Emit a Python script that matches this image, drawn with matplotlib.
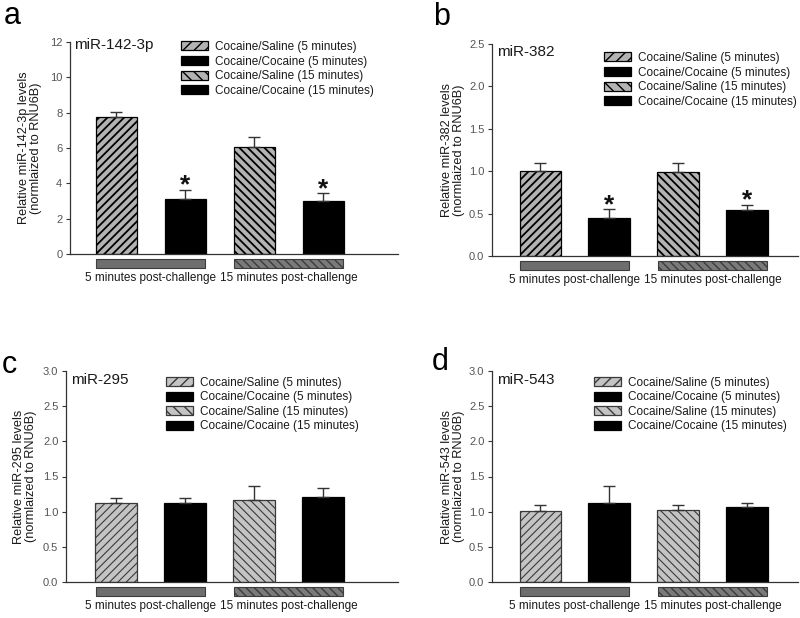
import matplotlib
matplotlib.use("Agg")
import matplotlib.pyplot as plt
from matplotlib.patches import Patch, Rectangle
import matplotlib.transforms as mtransforms

plt.rcParams['font.family'] = ['Liberation Sans', 'DejaVu Sans']

# ---------------- data ----------------
categories = ["Cocaine/Saline (5 minutes)", "Cocaine/Cocaine (5 minutes)",
              "Cocaine/Saline (15 minutes)", "Cocaine/Cocaine (15 minutes)"]
group_labels = ["5 minutes post-challenge", "15 minutes post-challenge"]
panel_letters = ["a", "b", "c", "d"]
mirna_names = ["miR-142-3p", "miR-382", "miR-295", "miR-543"]

means_a = [7.75, 3.12, 6.05, 3.02]
err_a = [0.30, 0.53, 0.57, 0.43]
sig_a = [False, True, False, True]

means_b = [1.00, 0.45, 0.99, 0.545]
err_b = [0.10, 0.10, 0.11, 0.06]
sig_b = [False, True, False, True]

means_c = [1.13, 1.13, 1.17, 1.21]
err_c = [0.07, 0.07, 0.20, 0.13]
sig_c = [False, False, False, False]

means_d = [1.01, 1.12, 1.03, 1.06]
err_d = [0.09, 0.25, 0.07, 0.07]
sig_d = [False, False, False, False]

yticks_a = [0, 2, 4, 6, 8, 10, 12]
yticks_b = [0.0, 0.5, 1.0, 1.5, 2.0, 2.5]
yticks_c = [0.0, 0.5, 1.0, 1.5, 2.0, 2.5, 3.0]
yticks_d = [0.0, 0.5, 1.0, 1.5, 2.0, 2.5, 3.0]

# ---------------- layout ----------------
fig = plt.figure(figsize=(8.0, 6.18), dpi=100)

W, H = 800.0, 618.0
def rect(l, r, top, bot):
    return [l / W, 1 - bot / H, (r - l) / W, (bot - top) / H]

panels = [
    dict(rect=rect(70, 398, 42, 254), xlim=(-0.67, 4.08), means=means_a, err=err_a, sig=sig_a,
         yticks=yticks_a, fmt="{:d}", style="dark", ylab_x=-0.085,
         title_xy=(0.012, 0.985), leg_xy=(0.338, 1.005), letter_xy=(4, 24)),
    dict(rect=rect(492, 798, 44, 256), xlim=(-0.70, 3.74), means=means_b, err=err_b, sig=sig_b,
         yticks=yticks_b, fmt="{:.1f}", style="dark", ylab_x=-0.088,
         title_xy=(0.016, 0.962), leg_xy=(0.366, 0.962), letter_xy=(433, 25)),
    dict(rect=rect(66, 398, 371, 582), xlim=(-0.725, 4.09), means=means_c, err=err_c, sig=sig_c,
         yticks=yticks_c, fmt="{:.1f}", style="light", ylab_x=-0.087,
         title_xy=(0.015, 0.957), leg_xy=(0.301, 0.973), letter_xy=(2, 373)),
    dict(rect=rect(492, 798, 371, 582), xlim=(-0.70, 3.74), means=means_d, err=err_d, sig=sig_d,
         yticks=yticks_d, fmt="{:.1f}", style="light", ylab_x=-0.088,
         title_xy=(0.016, 0.957), leg_xy=(0.333, 0.973), letter_xy=(432, 370)),
]

text_col = "#1a1a1a"
tick_col = "#555555"
x = [0, 1, 2, 3]
bar_w = 0.6

def bar_styles(style):
    if style == "dark":
        hfill, hedge, hlw = "#b3b3b3", "#000000", 1.3
    else:
        hfill, hedge, hlw = "#c4c4c4", "#3a3a3a", 0.8
    return [
        dict(facecolor=hfill, edgecolor=hedge, hatch="////", hlw=hlw),
        dict(facecolor="#000000", edgecolor="#000000", hatch=None, hlw=hlw),
        dict(facecolor=hfill, edgecolor=hedge, hatch="\\\\\\\\", hlw=hlw),
        dict(facecolor="#000000", edgecolor="#000000", hatch=None, hlw=hlw),
    ]

def apply_hatch_lw(p, lw):
    if hasattr(p, "set_hatch_linewidth"):
        p.set_hatch_linewidth(lw)

for i, P in enumerate(panels):
    ax = fig.add_axes(P["rect"])
    styles = bar_styles(P["style"])
    ymax = P["yticks"][-1]
    for j in range(4):
        s = styles[j]
        b = ax.bar(x[j], P["means"][j], width=bar_w, color=s["facecolor"],
                   edgecolor=s["edgecolor"], hatch=s["hatch"], linewidth=0.9, zorder=2)
        for p in b.patches:
            apply_hatch_lw(p, s["hlw"])
    ax.errorbar(x, P["means"], yerr=[[0] * 4, P["err"]], fmt="none",
                ecolor="#333333", elinewidth=1.0, capsize=4.5, capthick=1.0, zorder=3)
    for j in range(4):
        if P["sig"][j]:
            ax.annotate("*", xy=(x[j], P["means"][j] + P["err"][j]), xytext=(0, -2),
                        textcoords="offset points", ha="center", va="baseline",
                        fontsize=19, fontweight="bold", color="#111111", zorder=4)
    ax.set_xlim(*P["xlim"])
    ax.set_ylim(0, ymax)
    ax.set_yticks(P["yticks"])
    ax.set_yticklabels([P["fmt"].format(v) for v in P["yticks"]])
    ax.set_xticks([])
    for sp in ["top", "right"]:
        ax.spines[sp].set_visible(False)
    for sp in ["left", "bottom"]:
        ax.spines[sp].set_color("#333333")
        ax.spines[sp].set_linewidth(0.9)
    ax.tick_params(axis="y", direction="out", length=3, width=0.8, color="#333333",
                   labelsize=8, labelcolor=tick_col, pad=2.5)
    ax.set_ylabel("Relative %s levels\n(normlaized to RNU6B)" % mirna_names[i],
                  fontsize=9.2, color=text_col, linespacing=1.05)
    ax.yaxis.set_label_coords(P["ylab_x"], 0.5)
    ax.text(P["title_xy"][0], P["title_xy"][1], mirna_names[i], transform=ax.transAxes,
            ha="left", va="center", fontsize=11, color=text_col)

    # group bars below axis
    trans = mtransforms.blended_transform_factory(ax.transData, ax.transAxes)
    gx = [(-0.29, 1.29), (1.71, 3.29)]
    for g, (g0, g1) in enumerate(gx):
        if g == 0:
            r = Rectangle((g0, -0.068), g1 - g0, 0.046, transform=trans, clip_on=False,
                          facecolor="#6e6e6e", edgecolor="#3c3c3c", linewidth=0.8)
        else:
            r = Rectangle((g0, -0.068), g1 - g0, 0.046, transform=trans, clip_on=False,
                          facecolor="#7a7a7a", edgecolor="#3c3c3c", linewidth=0.8,
                          hatch="\\\\\\\\")
            apply_hatch_lw(r, 1.0)
        ax.add_patch(r)
        ax.text((g0 + g1) / 2, -0.115, group_labels[g], transform=trans, ha="center",
                va="center", fontsize=8.5, color=text_col)

    # legend
    handles = []
    for j in range(4):
        s = styles[j]
        h = Patch(facecolor=s["facecolor"], edgecolor=s["edgecolor"],
                  hatch=(s["hatch"][:3] if s["hatch"] else None), linewidth=0.9)
        apply_hatch_lw(h, s["hlw"])
        handles.append(h)
    leg = ax.legend(handles, categories, loc="upper left", bbox_to_anchor=P["leg_xy"],
                    frameon=False, fontsize=8.5, handlelength=2.3, handleheight=0.8,
                    handletextpad=0.55, labelspacing=0.22, borderpad=0, borderaxespad=0)
    for t in leg.get_texts():
        t.set_color(text_col)

    fig.text(P["letter_xy"][0] / W, 1 - P["letter_xy"][1] / H, panel_letters[i],
             ha="left", va="baseline", fontsize=22, color="#000000")

fig.savefig("out.png", dpi=100)
